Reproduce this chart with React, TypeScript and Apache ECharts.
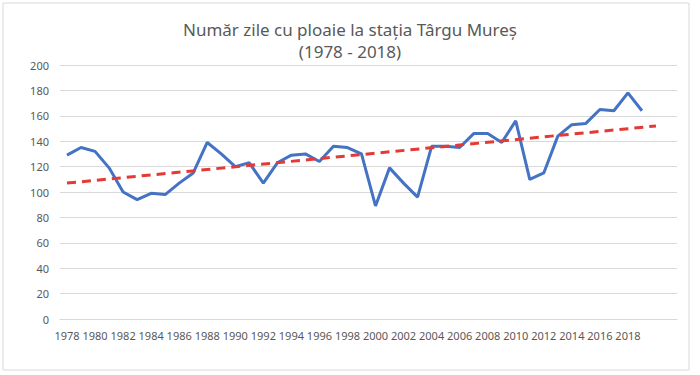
import React, { useEffect, useRef } from "react";
import * as echarts from "echarts";

const titleLine1 = "Număr zile cu ploaie la stația Târgu Mureș";
const titleLine2 = "(1978 - 2018)";

const years: string[] = [
  "1978", "1979", "1980", "1981", "1982", "1983", "1984", "1985", "1986", "1987",
  "1988", "1989", "1990", "1991", "1992", "1993", "1994", "1995", "1996", "1997",
  "1998", "1999", "2000", "2001", "2002", "2003", "2004", "2005", "2006", "2007",
  "2008", "2009", "2010", "2011", "2012", "2013", "2014", "2015", "2016", "2017",
  "2018", "2019",
];
const extraCategories: string[] = ["", " "];
const rainyDays: number[] = [
  129, 135, 132, 119, 100, 94, 99, 98, 107, 115,
  139, 130, 120, 123, 107, 123, 129, 130, 124, 136,
  135, 130, 89, 119, 107, 96, 136, 136, 135, 146,
  146, 139, 156, 110, 115, 144, 153, 154, 165, 164,
  178, 164,
];
const trendStartValue = 107;
const trendEndValue = 152;
const trendEndIndex = 42;

const yTicks = { min: 0, max: 200, interval: 20 };

export default function App() {
  const ref = useRef<HTMLDivElement>(null);
  useEffect(() => {
    if (!ref.current) return;
    const chart = echarts.init(ref.current, undefined, { renderer: "svg" });
    const categories = [...years, ...extraCategories];
    const textColor = "#595959";
    const font = "'Noto Sans', sans-serif";
    chart.setOption({
      animation: false,
      backgroundColor: "#ffffff",
      title: {
        text: titleLine1 + "\n" + titleLine2,
        left: "center",
        top: 13,
        textStyle: {
          fontSize: 17,
          fontWeight: "normal",
          color: textColor,
          fontFamily: font,
          lineHeight: 22,
        },
      },
      graphic: [
        {
          type: "rect",
          shape: { x: 3, y: 3, width: 686, height: 367 },
          style: { fill: "none", stroke: "#D9D9D9", lineWidth: 1 },
          silent: true,
        },
      ],
      grid: { left: 60, right: 23, top: 65, bottom: 56, containLabel: false },
      xAxis: {
        type: "category",
        data: categories,
        boundaryGap: true,
        axisLine: { show: true, lineStyle: { color: "#D9D9D9", width: 1 } },
        axisTick: { show: false },
        axisLabel: {
          interval: 1,
          color: textColor,
          fontSize: 11,
          fontFamily: font,
          margin: 11,
        },
        splitLine: { show: false },
      },
      yAxis: {
        type: "value",
        min: yTicks.min,
        max: yTicks.max,
        interval: yTicks.interval,
        axisLine: { show: false },
        axisTick: { show: false },
        axisLabel: { color: textColor, fontSize: 11, fontFamily: font, margin: 11 },
        splitLine: { show: true, lineStyle: { color: "#D9D9D9", width: 1 } },
      },
      series: [
        {
          name: "Zile cu ploaie",
          type: "line",
          data: rainyDays,
          symbol: "none",
          lineStyle: { color: "#4472C4", width: 3 },
          z: 2,
        },
        {
          name: "Trend",
          type: "line",
          data: [
            [0, trendStartValue],
            [trendEndIndex, trendEndValue],
          ],
          symbol: "none",
          lineStyle: { color: "#E53935", width: 3, type: [9, 6] },
          z: 3,
        },
      ],
    });
    return () => chart.dispose();
  }, []);
  return (
    <div
      ref={ref}
      style={{ position: "absolute", left: 0, top: 0, width: 700, height: 375 }}
    />
  );
}
